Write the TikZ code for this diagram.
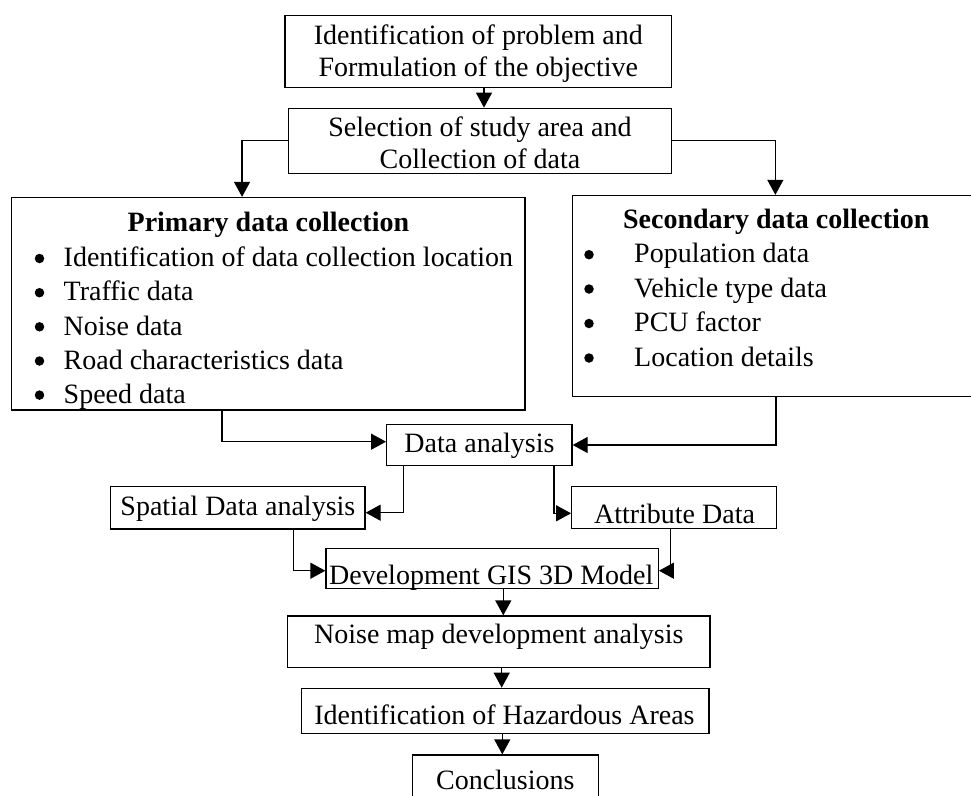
\documentclass[tikz,border=0pt]{standalone}
\usepackage{fontspec}
\setmainfont{Liberation Serif}
\usetikzlibrary{arrows.meta,calc}
\begin{document}
\begin{tikzpicture}[x=1pt,y=-1pt,
  box/.style n args={2}{draw=black,line width=1.3pt,minimum width=#1,minimum height=#2,inner sep=0pt},
  txt/.style={font=\fontsize{28}{34}\selectfont,inner sep=0pt,anchor=base},
  btxt/.style={txt,font=\fontsize{28}{34}\selectfont\bfseries},
  ltxt/.style={txt,anchor=base west},
  bul/.style={circle,fill=black,inner sep=0pt,minimum size=9.5pt},
  arr/.style={line width=1.3pt,-{Triangle[length=15pt,width=16pt]}}]
\useasboundingbox (0,0) rectangle (971,795);
\clip (0,0) rectangle (971,795);
% boxes
\node[box={386.5pt}{72pt}] (box1) at (478.25,51.7) {};
\node[box={383.2pt}{65pt}] (box2) at (479.9,140.8) {};
\node[box={513.3pt}{212.5pt}] (pri) at (268.35,303.75) {};
\node[box={400.7pt}{201.2pt}] (sec) at (772.65,296.1) {};
\node[box={185.3pt}{41.4pt}] (da) at (479.35,445) {};
\node[box={254.3pt}{42.3pt}] (sp) at (237.85,507.85) {};
\node[box={205pt}{41.6pt}] (at) at (674.2,507.5) {};
\node[box={332.3pt}{40pt}] (dev) at (492.15,568.3) {};
\node[box={422.3pt}{51.7pt}] (noise) at (498.85,641.85) {};
\node[box={407.3pt}{45pt}] (haz) at (505.35,710.8) {};
\node[box={185.6pt}{55pt}] (conc) at (505.5,782.5) {};
% texts
\node[txt] (t1a) at (478.3,44.3) {Identification of problem and};
\node[txt] (t1b) at (478.3,76) {Formulation of the objective};
\node[txt] (t2a) at (479.9,136.7) {Selection of study area and};
\node[txt] (t2b) at (479.9,168.3) {Collection of data};
\node[btxt] (pt) at (268.4,231.7) {Primary data collection};
\node[bul] (pb1) at (39.5,258.5) {};
\node[ltxt] (p1) at (63.5,266.7) {Identification of data collection location};
\node[bul] (pb2) at (39.5,292.7) {};
\node[ltxt] (p2) at (63.5,300.9) {Traffic data};
\node[bul] (pb3) at (39.5,326.8) {};
\node[ltxt] (p3) at (63.5,335) {Noise data};
\node[bul] (pb4) at (39.5,361) {};
\node[ltxt] (p4) at (63.5,369.2) {Road characteristics data};
\node[bul] (pb5) at (39.5,395.1) {};
\node[ltxt] (p5) at (63.5,403.3) {Speed data};
\node[btxt] (st) at (776.3,228.3) {Secondary data collection};
\node[bul] (sb1) at (589,254.7) {};
\node[ltxt] (s1) at (634,262.7) {Population data};
\node[bul] (sb2) at (589,289) {};
\node[ltxt] (s2) at (634,297) {Vehicle type data};
\node[bul] (sb3) at (589,323.5) {};
\node[ltxt] (s3) at (634,331.5) {PCU factor};
\node[bul] (sb4) at (589,358) {};
\node[ltxt] (s4) at (634,366) {Location details};
\node[txt] (tda) at (479.5,452.5) {Data analysis};
\node[txt] (tsp) at (237.9,515) {Spatial Data analysis};
\node[txt] (tat) at (674.5,523.3) {Attribute Data};
\node[txt] (tdev) at (491.3,584) {Development GIS 3D Model};
\node[txt] (tnoise) at (498.8,643.3) {Noise map development analysis};
\node[txt] (thaz) at (504.5,724) {Identification of Hazardous Areas};
\node[txt] (tconc) at (505.3,789.5) {Conclusions};
% connectors
\draw[arr] ([xshift=5.75pt]box1.south) -- ([xshift=5.75pt]box1.south |- box2.north);
\draw[arr] (box2.west) -| ([xshift=231pt]pri.north west);
\draw[arr] (box2.east) -| ([xshift=203.7pt]sec.north west);
\draw[arr] ([xshift=211pt]pri.south west) |- ([yshift=3.3pt]da.west);
\draw[arr] ([xshift=204.4pt]sec.south west) |- (da.east);
\draw[arr] ([xshift=17.6pt]da.south west) |- ([yshift=-4.85pt]sp.east);
\draw[arr] ([xshift=-18.7pt]da.south east) |- ([yshift=-5.8pt]at.west);
\draw[arr] ([xshift=183.6pt]sp.south west) |- ([yshift=-2.4pt]dev.west);
\draw[arr] ([xshift=99.3pt]at.south west) |- ([yshift=-2.4pt]dev.east);
\draw[arr] ([xshift=11.15pt]dev.south) -- ([xshift=11.15pt]dev.south |- noise.north);
\draw[arr] ([xshift=2.85pt]noise.south) -- ([xshift=2.85pt]noise.south |- haz.north);
\draw[arr] ([xshift=-3.05pt]haz.south) -- ([xshift=-3.05pt]haz.south |- conc.north);
\end{tikzpicture}
\end{document}
